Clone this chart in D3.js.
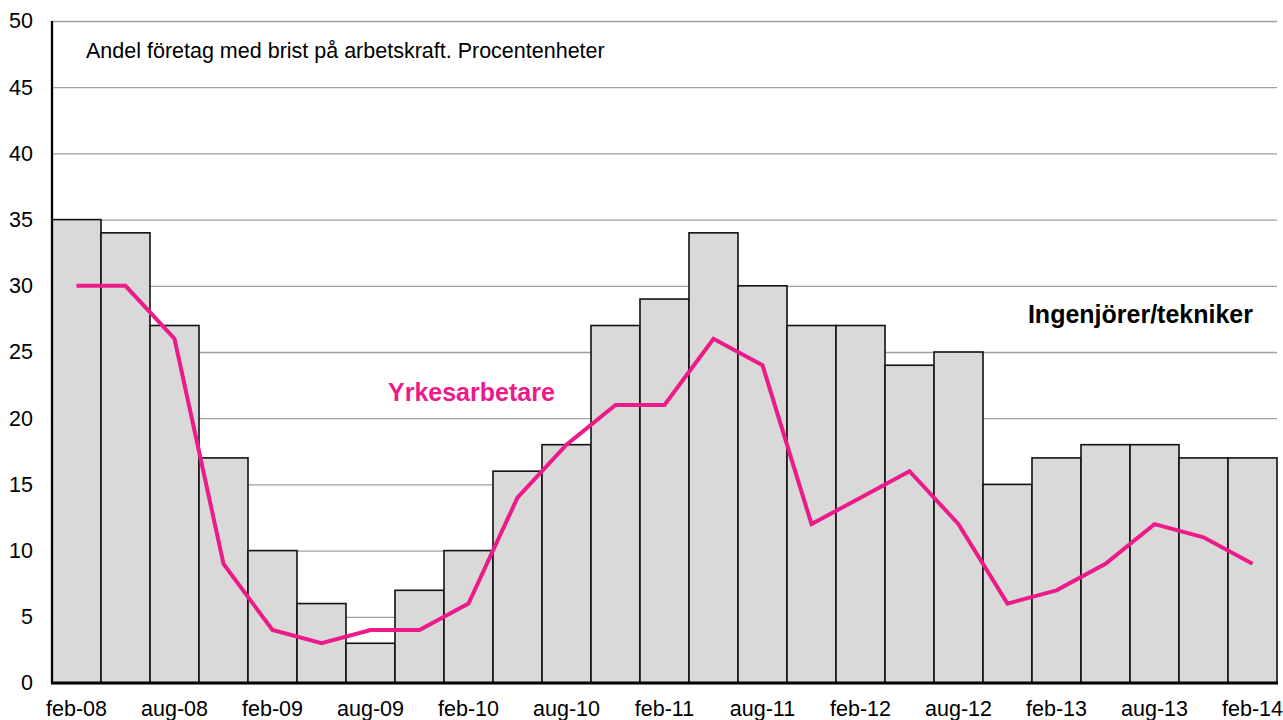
<!DOCTYPE html>
<html>
<head>
<meta charset="utf-8">
<script src="https://cdn.jsdelivr.net/npm/d3@7"></script>
<style>
  body { margin: 0; background: #fff; }
  svg { display: block; font-family: "Liberation Sans", Arial, sans-serif; }
</style>
</head>
<body>
<div id="chart"></div>
<script>
// quarterly survey periods
const categories = [
  'feb-08', 'maj-08', 'aug-08', 'nov-08',
  'feb-09', 'maj-09', 'aug-09', 'nov-09',
  'feb-10', 'maj-10', 'aug-10', 'nov-10',
  'feb-11', 'maj-11', 'aug-11', 'nov-11',
  'feb-12', 'maj-12', 'aug-12', 'nov-12',
  'feb-13', 'maj-13', 'aug-13', 'nov-13',
  'feb-14'
];
const tickLabels = ['feb-08', 'aug-08', 'feb-09', 'aug-09', 'feb-10', 'aug-10', 'feb-11',
  'aug-11', 'feb-12', 'aug-12', 'feb-13', 'aug-13', 'feb-14'];
const yTicks = [0, 5, 10, 15, 20, 25, 30, 35, 40, 45, 50];

// Ingenjörer/tekniker (bars)
const engineers = [35, 34, 27, 17, 10, 6, 3, 7, 10, 16, 18, 27, 29, 34, 30, 27, 27, 24, 25, 15, 17, 18, 18, 17, 17];
// Yrkesarbetare (line)
const workers = [30, 30, 26, 9, 4, 3, 4, 4, 6, 14, 18, 21, 21, 26, 24, 12, 14, 16, 12, 6, 7, 9, 12, 11, 9];

const width = 1283;
const height = 720;
const margin = { top: 21, right: 6, bottom: 37, left: 52 };
const chartWidth = width - margin.left - margin.right;
const chartHeight = height - margin.top - margin.bottom;
const pink = '#ED1B8A';

const svg = d3
  .select('#chart')
  .append('svg')
  .attr('width', width)
  .attr('height', height);

const g = svg.append('g').attr('transform', `translate(${margin.left},${margin.top})`);

const xScale = d3.scaleBand().domain(categories).range([0, chartWidth]).padding(0);
const yScale = d3.scaleLinear().domain([0, 50]).range([chartHeight, 0]);

// gridlines
g.append('g')
  .call(d3.axisLeft(yScale).tickValues(yTicks).tickSize(-chartWidth).tickFormat(''))
  .call((s) => s.select('.domain').remove())
  .selectAll('line')
  .attr('stroke', '#a0a0a0')
  .attr('stroke-width', 1.3);

// bars
g.selectAll('.bar')
  .data(engineers)
  .enter()
  .append('rect')
  .attr('class', 'bar')
  .attr('x', (d, i) => xScale(categories[i]))
  .attr('y', (d) => yScale(d))
  .attr('width', xScale.bandwidth())
  .attr('height', (d) => chartHeight - yScale(d))
  .attr('fill', '#d9d9d9')
  .attr('stroke', '#111')
  .attr('stroke-width', 1.6);

// line
const line = d3
  .line()
  .x((d, i) => xScale(categories[i]) + xScale.bandwidth() / 2)
  .y((d) => yScale(d));

g.append('path')
  .datum(workers)
  .attr('fill', 'none')
  .attr('stroke', pink)
  .attr('stroke-width', 4)
  .attr('stroke-linejoin', 'miter')
  .attr('d', line);

// y axis
const yAxis = g.append('g')
  .call(d3.axisLeft(yScale).tickValues(yTicks).tickSize(0).tickPadding(19));
yAxis.select('.domain').remove();
yAxis.selectAll('text')
  .attr('font-size', '21.5px')
  .attr('font-family', '"Liberation Sans", Arial, sans-serif')
  .attr('fill', '#000');

g.append('line')
  .attr('x1', 0).attr('x2', 0)
  .attr('y1', 0).attr('y2', chartHeight)
  .attr('stroke', '#000')
  .attr('stroke-width', 2.3);

// x axis
const xAxis = g.append('g')
  .attr('transform', `translate(0,${chartHeight})`)
  .call(d3.axisBottom(xScale).tickValues(tickLabels).tickSize(0).tickPadding(18));
xAxis.select('.domain').remove();
xAxis.selectAll('text')
  .attr('font-size', '21.5px')
  .attr('font-family', '"Liberation Sans", Arial, sans-serif')
  .attr('fill', '#000');

g.append('line')
  .attr('x1', -1).attr('x2', chartWidth + 1)
  .attr('y1', chartHeight).attr('y2', chartHeight)
  .attr('stroke', '#000')
  .attr('stroke-width', 3);

// texts
svg.append('text')
  .attr('x', 86)
  .attr('y', 57.5)
  .attr('font-size', '21.5px')
  .text('Andel företag med brist på arbetskraft. Procentenheter');

svg.append('text')
  .attr('x', 1253)
  .attr('y', 323)
  .attr('text-anchor', 'end')
  .attr('font-size', '25px')
  .attr('font-weight', 'bold')
  .text('Ingenjörer/tekniker');

svg.append('text')
  .attr('x', 388)
  .attr('y', 401)
  .attr('font-size', '25px')
  .attr('font-weight', 'bold')
  .attr('fill', pink)
  .text('Yrkesarbetare');
</script>
</body>
</html>
